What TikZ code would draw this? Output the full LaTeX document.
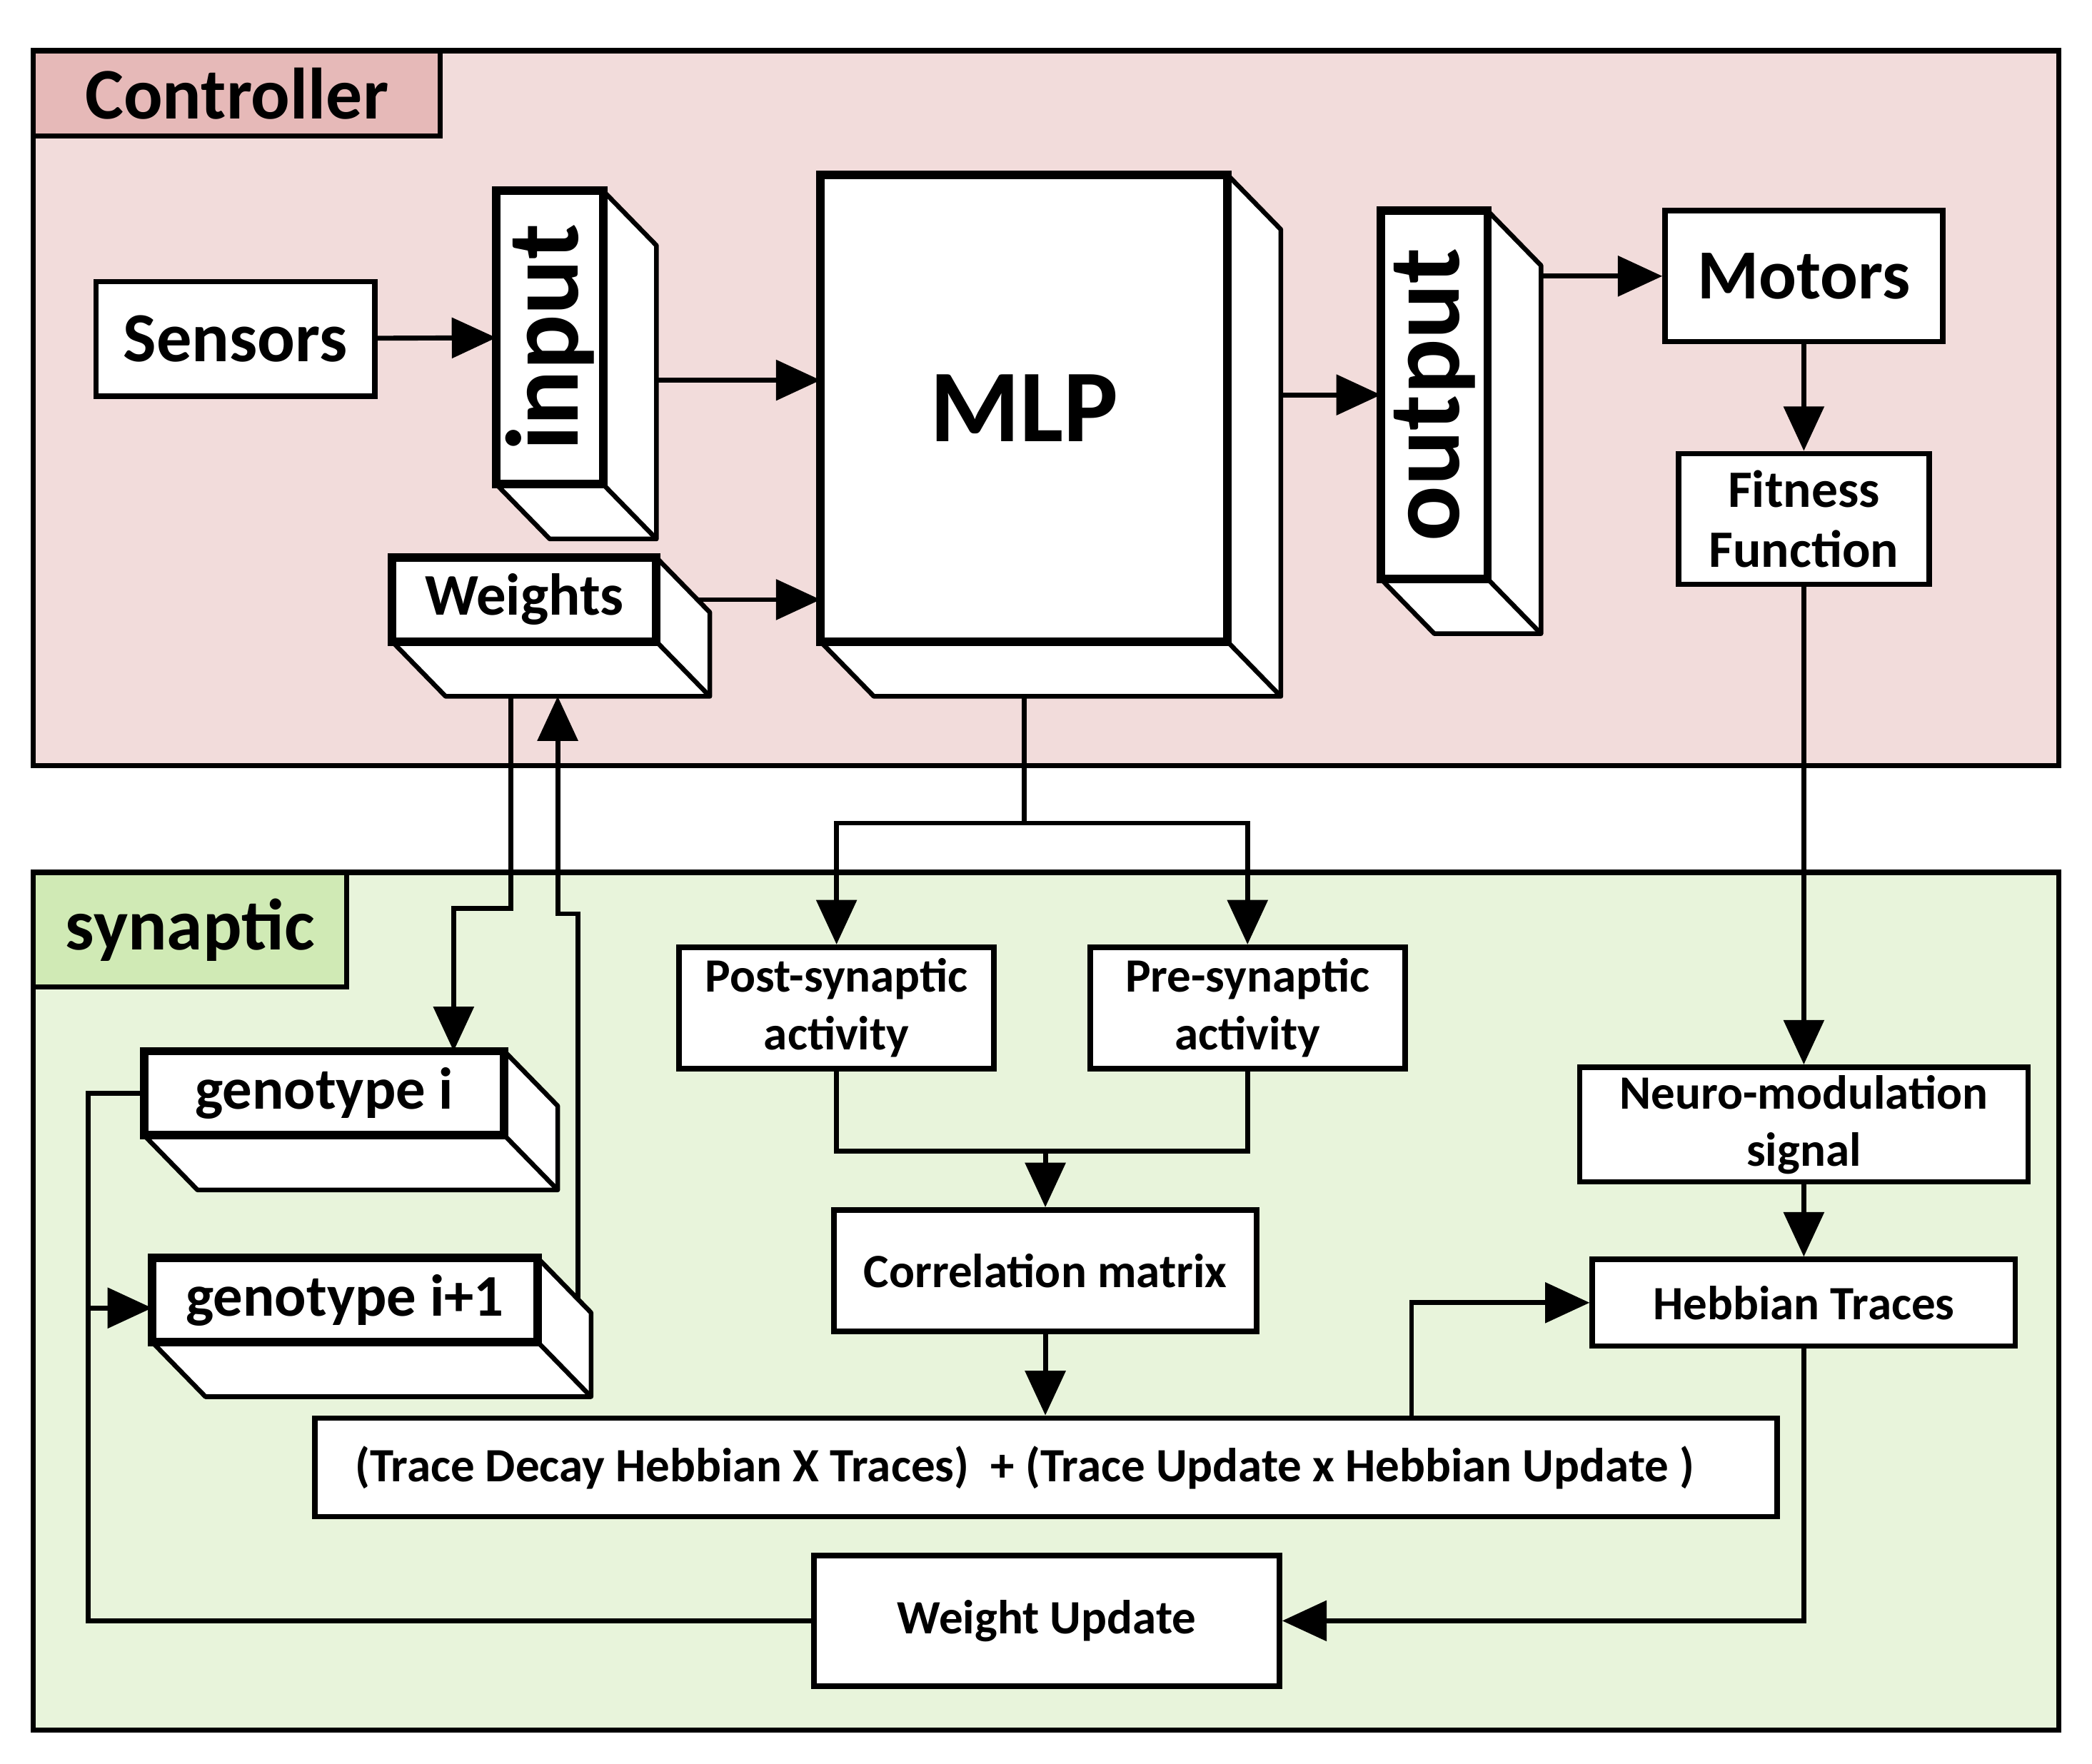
\documentclass[tikz,border=0pt]{standalone}
\usepackage{fontspec}
\setmainfont{Carlito}
\usetikzlibrary{arrows.meta,positioning}
\definecolor{ctrlbg}{HTML}{F2DCDB}
\definecolor{ctrltag}{HTML}{E6B9B8}
\definecolor{synbg}{HTML}{E8F4DB}
\definecolor{syntag}{HTML}{D0EAB5}

\begin{document}
\begin{tikzpicture}[
  font=\bfseries,
  panel/.style={draw,line width=1.1pt},
  tag/.style={draw,line width=1.1pt,inner sep=0pt,font=\bfseries\fontsize{15.5}{18}\selectfont},
  blk/.style={draw,fill=white,line width=1.15pt,inner sep=0pt,align=center},
  face/.style={draw,fill=white,line width=1.8pt,inner sep=0pt,outer sep=0pt},
  side/.style={draw,fill=white,line width=1pt,line join=round},
  bigtxt/.style={font=\bfseries\fontsize{22}{26}\selectfont},
  midtxt/.style={font=\bfseries\fontsize{15}{18}\selectfont},
  boxtxt/.style={font=\bfseries\fontsize{12.6}{15}\selectfont},
  fittxt/.style={font=\bfseries\fontsize{11.2}{13.7}\selectfont},
  smalltxt/.style={font=\bfseries\fontsize{10.2}{12.2}\selectfont},
  arr/.style={-{Triangle[length=9.5pt,width=8.5pt]},line width=1.05pt},
  wire/.style={line width=1.05pt}
]
\useasboundingbox (0,0) rectangle (15.68,-13.22);

% the two panels
\node[panel,fill=ctrlbg,minimum width=15.18cm,minimum height=5.36cm] (ctrl) at (7.84,-3.06) {};
\node[tag,fill=ctrltag,minimum width=3.05cm,minimum height=0.64cm] (ctrltag) at (1.775,-0.70) {Controller};
\node[panel,fill=synbg,minimum width=15.18cm,minimum height=6.43cm] (syn) at (7.84,-9.755) {};
\node[tag,fill=syntag,minimum width=2.35cm,minimum height=0.86cm] (syntag) at (1.425,-6.97) {synaptic};

% controller blocks
\node[blk,midtxt,minimum width=2.09cm,minimum height=0.86cm] (sensors) at (1.765,-2.54) {Sensors};
\node[face,bigtxt,minimum width=0.80cm,minimum height=2.20cm] (inp) at (4.12,-2.53) {\rotatebox{90}{input}};
\node[face,bigtxt,minimum width=3.05cm,minimum height=3.50cm] (mlp) at (7.675,-3.06) {MLP};
\node[face,boxtxt,minimum width=1.98cm,minimum height=0.63cm] (wts) at (3.93,-4.495) {Weights};
\node[face,bigtxt,minimum width=0.80cm,minimum height=2.76cm] (outp) at (10.75,-2.96) {\rotatebox{90}{output}};
\node[blk,midtxt,minimum width=2.08cm,minimum height=0.98cm] (motors) at (13.52,-2.07) {Motors};
\node[blk,fittxt,minimum width=1.88cm,minimum height=0.98cm,below=0.8cm of motors] (fit) {Fitness\\[-1pt]Function};

% synaptic blocks
\node[face,boxtxt,minimum width=2.70cm,minimum height=0.63cm] (gi) at (2.43,-8.195) {genotype i};
\node[face,boxtxt,minimum width=2.89cm,minimum height=0.63cm] (gii) at (2.585,-9.745) {genotype i+1};
\node[blk,smalltxt,minimum width=2.36cm,minimum height=0.91cm] (post) at (6.27,-7.555) {Post-synaptic\\activity};
\node[blk,smalltxt,minimum width=2.36cm,minimum height=0.91cm,right=0.68cm of post] (pre) {Pre-synaptic\\activity};
\node[blk,smalltxt,minimum width=3.17cm,minimum height=0.91cm] (corr) at (7.835,-9.525) {Correlation matrix};
\node[blk,smalltxt,minimum width=3.36cm,minimum height=0.86cm] (neuro) at (13.52,-8.43) {Neuro-modulation\\signal};
\node[blk,smalltxt,minimum width=3.17cm,minimum height=0.65cm,below=0.54cm of neuro] (hebb) {Hebbian Traces};
\node[blk,smalltxt,minimum width=10.96cm,minimum height=0.74cm] (trace) at (7.84,-11.00) {(Trace Decay Hebbian X Traces)\ \ + (Trace Update x Hebbian Update )\hspace*{0.32cm}};
\node[blk,smalltxt,minimum width=3.49cm,minimum height=0.98cm] (wu) at (7.845,-12.15) {Weight Update};

% depth of the 3d blocks
\foreach \n in {inp,mlp,wts,outp,gi,gii}{
  \filldraw[side] (\n.north east) -- ++(0.40,-0.41) -- ([shift={(0.40,-0.41)}]\n.south east)
    -- ([shift={(0.40,-0.41)}]\n.south west) -- (\n.south west) -- (\n.south east) -- cycle;
  \draw[side] (\n.south east) -- ++(0.40,-0.41);
  \draw[line width=1.8pt] (\n.north east) |- (\n.south west);
}

% controller connectors
\draw[arr] (sensors) -- (inp);
\coordinate (inpback) at ([shift={(0.40,-0.32)}]inp.east);
\draw[arr] (inpback) -- (inpback -| mlp.west);
\draw[arr] ([xshift=0.31cm]wts.east) -- (wts.east -| mlp.west);
\coordinate (mlpback) at ([shift={(0.40,0.10)}]mlp.east);
\draw[arr] (mlpback) -- (mlpback -| outp.west);
\draw[arr] (motors.west -| outp.east) ++(0.40,0) -- (motors.west);
\draw[arr] (motors) -- (fit);
\draw[arr] (fit) -- (neuro);

% weights and genotypes
\draw[arr] ([shift={(-0.10,-0.41)}]wts.south) -- ++(0,-1.59) -| ([xshift=0.97cm]gi.north);
\draw[arr] ([shift={(0.30,-0.31)}]gii.north east) -- ++(0,2.89) -| ([shift={(0.25,-0.41)}]wts.south);
\draw[wire] (gi.west) -- ++(-0.42,0) coordinate (loopx) |- (wu.west);
\draw[arr] (loopx |- gii.west) ++(0,-0.06) -- ([yshift=-0.06cm]gii.west);

% hebbian part
\draw[wire] ([yshift=-0.41cm]mlp.south) -- ++(0,-0.95) coordinate (split);
\draw[arr] (split) -| (post);
\draw[arr] (split) -| (pre);
\draw[wire] (post.south) -- ++(0,-0.60) coordinate (pj) -| (pre.south);
\draw[arr] (pj -| corr.north) -- (corr.north);
\draw[arr] (corr) -- (corr.south |- trace.north);
\draw[arr] ([xshift=2.74cm]trace.north) |- (hebb.west);
\draw[arr] (neuro) -- (hebb);
\draw[arr] (hebb.south) |- (wu.east);
\end{tikzpicture}
\end{document}
